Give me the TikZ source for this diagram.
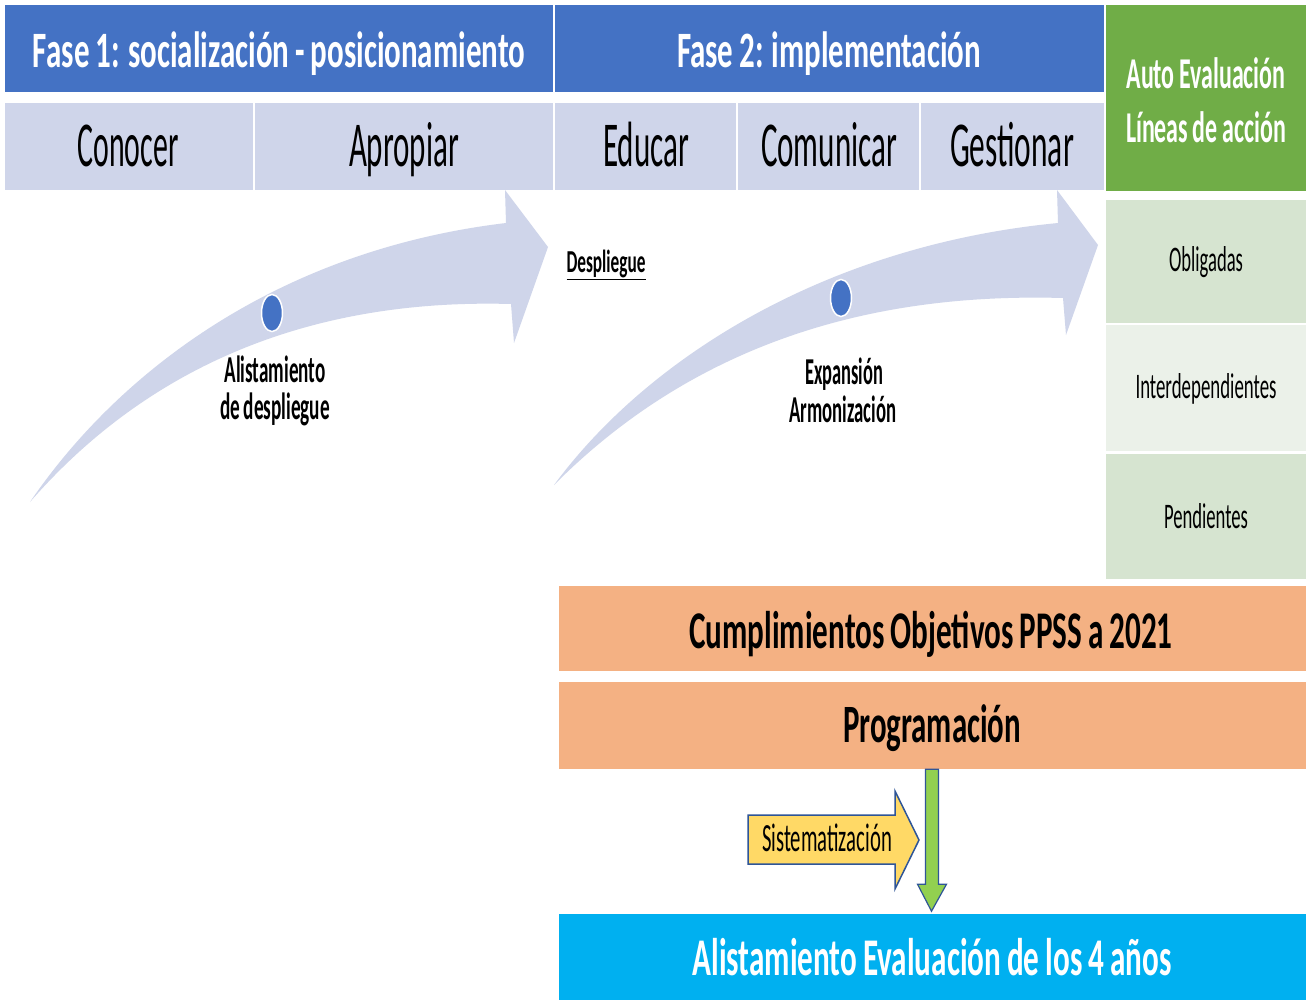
\documentclass[tikz,border=0pt]{standalone}
\usepackage{fontspec}
\setmainfont{Carlito}[WordSpace=0.85]
\usetikzlibrary{shapes.geometric}
\definecolor{hdrblue}{HTML}{4472C4}
\definecolor{lav}{HTML}{CFD5EA}
\definecolor{aegreen}{HTML}{70AD47}
\definecolor{lgreen}{HTML}{D6E4D0}
\definecolor{llgreen}{HTML}{EBF1E9}
\definecolor{orng}{HTML}{F4B183}
\definecolor{cyanb}{HTML}{00B0F0}
\definecolor{yel}{HTML}{FFD966}
\definecolor{arrgreen}{HTML}{92D050}
\definecolor{edgeblue}{HTML}{2F5597}
\newcommand\fitw[3]{\fontsize{#1}{#1}\selectfont\resizebox{#2pt}{\height}{#3}}
\begin{document}
\begin{tikzpicture}[x=1pt,y=-1pt,
  box/.style={rectangle,inner sep=0pt,draw=none},
  txt/.style={inner sep=0pt,anchor=base},
  dot/.style={ellipse,fill=hdrblue,draw=white,line width=1.5pt,minimum width=21pt,minimum height=37pt,inner sep=0pt},
  curved/.style={fill=lav}]
\useasboundingbox[fill=white] (0,0) rectangle (1312,999);

% headers
\node[box,fill=hdrblue,minimum width=548,minimum height=87] (f1) at (279,48.5) {};
\node[box,fill=hdrblue,minimum width=549,minimum height=87] (f2) at (829.5,48.5) {};
\node[box,fill=aegreen,minimum width=200,minimum height=186] (ae) at (1206,97.5) {};
\node[txt,text=white] (f1t) at (279,67) {\fitw{51}{492}{\bfseries Fase 1: socialización - posicionamiento}};
\node[txt,text=white] (f2t) at (829,67) {\fitw{51}{304}{\bfseries Fase 2: implementación}};
\node[txt,text=white] (ae1) at (1206,88) {\fitw{44}{159}{\bfseries Auto Evaluación}};
\node[txt,text=white] (ae2) at (1206,142) {\fitw{44}{160}{\bfseries Líneas de acción}};

% second row
\node[box,fill=lav,minimum width=248,minimum height=87] (con) at (129,146.5) {};
\node[box,fill=lav,minimum width=298,minimum height=87] (apr) at (404,146.5) {};
\node[box,fill=lav,minimum width=181,minimum height=87] (edu) at (645.5,146.5) {};
\node[box,fill=lav,minimum width=181,minimum height=87] (com) at (828.5,146.5) {};
\node[box,fill=lav,minimum width=183,minimum height=87] (ges) at (1012.5,146.5) {};
\node[txt] (cont) at (128,166) {\fitw{64}{101}{Conocer}};
\node[txt] (aprt) at (404,166) {\fitw{64}{110}{Apropiar}};
\node[txt] (edut) at (646,166) {\fitw{64}{86}{Educar}};
\node[txt] (comt) at (829,166) {\fitw{64}{136}{Comunicar}};
\node[txt] (gest) at (1012,166) {\fitw{64}{124}{Gestionar}};

% curved arrows
\fill[curved] (30,502) .. controls (120,370) and (280,250) .. (506,223)
  -- (505,190) -- (548,247) -- (514,343) -- (511,304)
  .. controls (370,300) and (180,330) .. (30,502) -- cycle;
\fill[curved] (554,485) .. controls (650,355) and (830,245) .. (1058,223)
  -- (1057,190) -- (1098,245) -- (1066,335) -- (1063,298)
  .. controls (920,294) and (720,318) .. (554,485) -- cycle;
\node[dot] (d1) at (272,313) {};
\node[dot] (d2) at (841,298) {};
\node[txt] (al1) at (275,382) {\fitw{38}{101}{\bfseries Alistamiento}};
\node[txt] (al2) at (275,419) {\fitw{38}{110}{\bfseries de despliegue}};
\node[txt] (ex1) at (844,384) {\fitw{38}{78}{\bfseries Expansión}};
\node[txt] (ex2) at (843,422) {\fitw{38}{107}{\bfseries Armonización}};
\node[txt] (desp) at (606,272) {\fitw{32}{79}{\bfseries\underline{Despliegue}}};

% green list
\node[box,fill=lgreen,minimum width=200,minimum height=123] (obl) at (1206,261.5) {};
\node[box,fill=llgreen,minimum width=200,minimum height=126] (int) at (1206,388) {};
\node[box,fill=lgreen,minimum width=200,minimum height=125] (pen) at (1206,516.5) {};
\node[txt] (oblt) at (1206,271) {\fitw{36}{74}{Obligadas}};
\node[txt] (intt) at (1206,398) {\fitw{36}{141}{Interdependientes}};
\node[txt] (pent) at (1206,528) {\fitw{36}{84}{Pendientes}};

% bottom boxes
\node[box,fill=orng,minimum width=747,minimum height=85] (cum) at (932.5,628.5) {};
\node[box,fill=orng,minimum width=747,minimum height=87] (prog) at (932.5,725.5) {};
\node[box,fill=cyanb,minimum width=747,minimum height=86] (alist) at (932.5,957) {};
\node[txt] (cumt) at (931,648) {\fitw{53}{483}{\bfseries Cumplimientos Objetivos PPSS a 2021}};
\node[txt] (progt) at (932,742) {\fitw{54}{178}{\bfseries Programación}};
\node[txt,text=white] (alistt) at (932,975) {\fitw{53}{479}{\bfseries Alistamiento Evaluación de los 4 años}};

% yellow arrow
\filldraw[fill=yel,draw=edgeblue,line width=1.5pt,line join=miter]
  (748,815) -- (895,815) -- (895,791) -- (919,840) -- (895,889) -- (895,864) -- (748,864) -- cycle;
\node[txt] (sist) at (827,851) {\fitw{40}{130}{Sistematización}};

% green arrow from Programación to Alistamiento
\begin{scope}[shift={(prog.south)}]
\filldraw[fill=arrgreen,draw=edgeblue,line width=1.2pt,line join=miter]
  (-7,0) -- (6,0) -- (6,115) -- (14,115) -- (-1,142) -- (-15,115) -- (-7,115) -- cycle;
\end{scope}
\end{tikzpicture}
\end{document}
